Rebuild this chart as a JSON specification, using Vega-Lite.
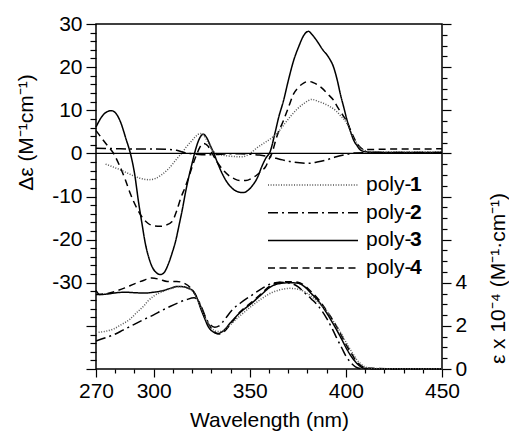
{
  "$schema": "https://vega.github.io/schema/vega-lite/v6.json",
  "width": 346,
  "height": 345,
  "autosize": {"type": "none"},
  "padding": {"left": 96, "top": 24, "right": 67, "bottom": 68},
  "background": "white",
  "config": {
    "view": {"stroke": "black", "strokeWidth": 1.5},
    "font": "Liberation Sans",
    "axis": {
      "domain": false, "grid": false, "tickColor": "black", "tickWidth": 1.2,
      "labelColor": "black", "titleColor": "black",
      "labelFont": "Liberation Sans", "labelFontSize": 21,
      "titleFont": "Liberation Sans", "titleFontSize": 21, "titleFontWeight": "normal",
      "labelFlush": false, "labelOverlap": false, "labelBound": false, "tickCount": 100
    }
  },
  "datasets": {
    "cd": [
      {"s":"poly-3","n":"3","nm":270,"v":6.1},{"s":"poly-3","n":"3","nm":273,"v":8.5},{"s":"poly-3","n":"3","nm":275.5,"v":9.6},{"s":"poly-3","n":"3","nm":278,"v":9.9},{"s":"poly-3","n":"3","nm":280.5,"v":9.2},{"s":"poly-3","n":"3","nm":283,"v":7.0},{"s":"poly-3","n":"3","nm":285.5,"v":3.5},{"s":"poly-3","n":"3","nm":288,"v":-0.2},{"s":"poly-3","n":"3","nm":290,"v":-4.5},{"s":"poly-3","n":"3","nm":292.2,"v":-11.5},{"s":"poly-3","n":"3","nm":294,"v":-16.5},{"s":"poly-3","n":"3","nm":295.7,"v":-21.0},{"s":"poly-3","n":"3","nm":297.5,"v":-24.2},{"s":"poly-3","n":"3","nm":299.2,"v":-26.3},{"s":"poly-3","n":"3","nm":301.5,"v":-27.7},{"s":"poly-3","n":"3","nm":303.5,"v":-28.1},{"s":"poly-3","n":"3","nm":305.5,"v":-27.6},{"s":"poly-3","n":"3","nm":307.5,"v":-25.8},{"s":"poly-3","n":"3","nm":309.6,"v":-23.1},{"s":"poly-3","n":"3","nm":311.5,"v":-20.2},{"s":"poly-3","n":"3","nm":313.1,"v":-16.9},{"s":"poly-3","n":"3","nm":315,"v":-12.8},{"s":"poly-3","n":"3","nm":316.5,"v":-9.2},{"s":"poly-3","n":"3","nm":318,"v":-6.0},{"s":"poly-3","n":"3","nm":320,"v":-2.3},{"s":"poly-3","n":"3","nm":322,"v":1.2},{"s":"poly-3","n":"3","nm":324,"v":3.6},{"s":"poly-3","n":"3","nm":325.7,"v":4.45},{"s":"poly-3","n":"3","nm":327.5,"v":3.7},{"s":"poly-3","n":"3","nm":329.5,"v":1.8},{"s":"poly-3","n":"3","nm":331.3,"v":0},{"s":"poly-3","n":"3","nm":333.5,"v":-2.5},{"s":"poly-3","n":"3","nm":336,"v":-5.0},{"s":"poly-3","n":"3","nm":339,"v":-7.2},{"s":"poly-3","n":"3","nm":342,"v":-8.5},{"s":"poly-3","n":"3","nm":344.5,"v":-9.0},{"s":"poly-3","n":"3","nm":346.6,"v":-9.1},{"s":"poly-3","n":"3","nm":349,"v":-8.6},{"s":"poly-3","n":"3","nm":351.5,"v":-7.4},{"s":"poly-3","n":"3","nm":354,"v":-5.6},{"s":"poly-3","n":"3","nm":356.5,"v":-2.8},{"s":"poly-3","n":"3","nm":358.5,"v":-1.0},{"s":"poly-3","n":"3","nm":360.6,"v":0.4},{"s":"poly-3","n":"3","nm":363,"v":4.5},{"s":"poly-3","n":"3","nm":365,"v":8.3},{"s":"poly-3","n":"3","nm":367.6,"v":12.3},{"s":"poly-3","n":"3","nm":370,"v":16.8},{"s":"poly-3","n":"3","nm":372.8,"v":21.5},{"s":"poly-3","n":"3","nm":375.5,"v":24.8},{"s":"poly-3","n":"3","nm":378,"v":27.3},{"s":"poly-3","n":"3","nm":380.5,"v":28.3},{"s":"poly-3","n":"3","nm":382.5,"v":27.5},{"s":"poly-3","n":"3","nm":384.9,"v":26.1},{"s":"poly-3","n":"3","nm":388,"v":24.0},{"s":"poly-3","n":"3","nm":391,"v":22.3},{"s":"poly-3","n":"3","nm":393.6,"v":20.0},{"s":"poly-3","n":"3","nm":395.5,"v":17.0},{"s":"poly-3","n":"3","nm":397.1,"v":13.8},{"s":"poly-3","n":"3","nm":399,"v":10.5},{"s":"poly-3","n":"3","nm":400.6,"v":7.7},{"s":"poly-3","n":"3","nm":402.3,"v":5.2},{"s":"poly-3","n":"3","nm":404,"v":3.1},{"s":"poly-3","n":"3","nm":405.8,"v":1.8},{"s":"poly-3","n":"3","nm":407.5,"v":0.8},{"s":"poly-3","n":"3","nm":410,"v":0.4},{"s":"poly-3","n":"3","nm":415,"v":0.25},{"s":"poly-3","n":"3","nm":430,"v":0.2},{"s":"poly-3","n":"3","nm":450,"v":0.2},

      {"s":"poly-4","n":"4","nm":270,"v":5.3},{"s":"poly-4","n":"4","nm":273,"v":3.5},{"s":"poly-4","n":"4","nm":276,"v":1.8},{"s":"poly-4","n":"4","nm":279,"v":0.1},{"s":"poly-4","n":"4","nm":282,"v":-2.6},{"s":"poly-4","n":"4","nm":285,"v":-5.8},{"s":"poly-4","n":"4","nm":288,"v":-9.5},{"s":"poly-4","n":"4","nm":291,"v":-12.5},{"s":"poly-4","n":"4","nm":294,"v":-14.8},{"s":"poly-4","n":"4","nm":297,"v":-16.2},{"s":"poly-4","n":"4","nm":300,"v":-16.8},{"s":"poly-4","n":"4","nm":303.5,"v":-16.9},{"s":"poly-4","n":"4","nm":306,"v":-16.7},{"s":"poly-4","n":"4","nm":309.6,"v":-15.8},{"s":"poly-4","n":"4","nm":312,"v":-13.3},{"s":"poly-4","n":"4","nm":314,"v":-10.5},{"s":"poly-4","n":"4","nm":316.5,"v":-7.7},{"s":"poly-4","n":"4","nm":319,"v":-4.5},{"s":"poly-4","n":"4","nm":321,"v":-1.8},{"s":"poly-4","n":"4","nm":322.6,"v":0},{"s":"poly-4","n":"4","nm":324,"v":1.4},{"s":"poly-4","n":"4","nm":326,"v":2.3},{"s":"poly-4","n":"4","nm":328,"v":1.8},{"s":"poly-4","n":"4","nm":330.4,"v":0},{"s":"poly-4","n":"4","nm":333,"v":-2.0},{"s":"poly-4","n":"4","nm":336,"v":-3.8},{"s":"poly-4","n":"4","nm":339,"v":-5.1},{"s":"poly-4","n":"4","nm":342,"v":-5.9},{"s":"poly-4","n":"4","nm":345,"v":-6.3},{"s":"poly-4","n":"4","nm":348,"v":-6.3},{"s":"poly-4","n":"4","nm":351,"v":-5.8},{"s":"poly-4","n":"4","nm":354,"v":-4.9},{"s":"poly-4","n":"4","nm":356,"v":-4.1},{"s":"poly-4","n":"4","nm":358.2,"v":-3.1},{"s":"poly-4","n":"4","nm":360,"v":-1.4},{"s":"poly-4","n":"4","nm":361.5,"v":0},{"s":"poly-4","n":"4","nm":364,"v":3.8},{"s":"poly-4","n":"4","nm":367.6,"v":7.7},{"s":"poly-4","n":"4","nm":370,"v":10.5},{"s":"poly-4","n":"4","nm":372.8,"v":13.8},{"s":"poly-4","n":"4","nm":375.5,"v":15.4},{"s":"poly-4","n":"4","nm":378,"v":16.3},{"s":"poly-4","n":"4","nm":380.5,"v":16.7},{"s":"poly-4","n":"4","nm":383,"v":16.4},{"s":"poly-4","n":"4","nm":387.4,"v":15.2},{"s":"poly-4","n":"4","nm":390.5,"v":13.8},{"s":"poly-4","n":"4","nm":393.6,"v":12.3},{"s":"poly-4","n":"4","nm":396,"v":10.5},{"s":"poly-4","n":"4","nm":397.9,"v":9.2},{"s":"poly-4","n":"4","nm":400.6,"v":7.3},{"s":"poly-4","n":"4","nm":403,"v":4.8},{"s":"poly-4","n":"4","nm":405.8,"v":2.3},{"s":"poly-4","n":"4","nm":407.5,"v":1.4},{"s":"poly-4","n":"4","nm":409.3,"v":0.9},{"s":"poly-4","n":"4","nm":412,"v":0.9},{"s":"poly-4","n":"4","nm":425,"v":1.0},{"s":"poly-4","n":"4","nm":440,"v":1.0},{"s":"poly-4","n":"4","nm":450,"v":1.1},

      {"s":"poly-1","n":"1","nm":275,"v":-2.5},{"s":"poly-1","n":"1","nm":278,"v":-3.0},{"s":"poly-1","n":"1","nm":282,"v":-3.7},{"s":"poly-1","n":"1","nm":286,"v":-4.5},{"s":"poly-1","n":"1","nm":290,"v":-5.3},{"s":"poly-1","n":"1","nm":294,"v":-5.9},{"s":"poly-1","n":"1","nm":297.5,"v":-6.1},{"s":"poly-1","n":"1","nm":301,"v":-5.8},{"s":"poly-1","n":"1","nm":304,"v":-5.0},{"s":"poly-1","n":"1","nm":307,"v":-3.9},{"s":"poly-1","n":"1","nm":310,"v":-2.4},{"s":"poly-1","n":"1","nm":312.5,"v":-1.0},{"s":"poly-1","n":"1","nm":314.5,"v":0},{"s":"poly-1","n":"1","nm":317,"v":1.5},{"s":"poly-1","n":"1","nm":320,"v":3.0},{"s":"poly-1","n":"1","nm":322,"v":4.0},{"s":"poly-1","n":"1","nm":324.3,"v":4.6},{"s":"poly-1","n":"1","nm":326,"v":4.2},{"s":"poly-1","n":"1","nm":328,"v":2.8},{"s":"poly-1","n":"1","nm":330.4,"v":0.8},{"s":"poly-1","n":"1","nm":333,"v":-0.1},{"s":"poly-1","n":"1","nm":337,"v":-0.5},{"s":"poly-1","n":"1","nm":341,"v":-0.7},{"s":"poly-1","n":"1","nm":346,"v":-0.8},{"s":"poly-1","n":"1","nm":350.2,"v":0},{"s":"poly-1","n":"1","nm":353.5,"v":1.2},{"s":"poly-1","n":"1","nm":357.1,"v":2.3},{"s":"poly-1","n":"1","nm":360.5,"v":3.3},{"s":"poly-1","n":"1","nm":364.1,"v":4.6},{"s":"poly-1","n":"1","nm":367.5,"v":6.5},{"s":"poly-1","n":"1","nm":371,"v":8.5},{"s":"poly-1","n":"1","nm":374.5,"v":10.2},{"s":"poly-1","n":"1","nm":378,"v":11.5},{"s":"poly-1","n":"1","nm":382.3,"v":12.5},{"s":"poly-1","n":"1","nm":386,"v":12.0},{"s":"poly-1","n":"1","nm":391.9,"v":10.8},{"s":"poly-1","n":"1","nm":395,"v":9.8},{"s":"poly-1","n":"1","nm":397.1,"v":8.8},{"s":"poly-1","n":"1","nm":400.6,"v":6.9},{"s":"poly-1","n":"1","nm":403,"v":4.5},{"s":"poly-1","n":"1","nm":405.8,"v":2.3},{"s":"poly-1","n":"1","nm":407.5,"v":1.3},{"s":"poly-1","n":"1","nm":409.3,"v":0.8},{"s":"poly-1","n":"1","nm":412,"v":0.4},{"s":"poly-1","n":"1","nm":420,"v":0.3},{"s":"poly-1","n":"1","nm":450,"v":0.3},

      {"s":"poly-2","n":"2","nm":270,"v":1.2},{"s":"poly-2","n":"2","nm":280,"v":1.1},{"s":"poly-2","n":"2","nm":290,"v":1.0},{"s":"poly-2","n":"2","nm":300,"v":1.0},{"s":"poly-2","n":"2","nm":308,"v":0.9},{"s":"poly-2","n":"2","nm":312,"v":0.7},{"s":"poly-2","n":"2","nm":316,"v":0.2},{"s":"poly-2","n":"2","nm":320,"v":-0.1},{"s":"poly-2","n":"2","nm":325,"v":-0.3},{"s":"poly-2","n":"2","nm":330,"v":-0.3},{"s":"poly-2","n":"2","nm":335,"v":-0.2},{"s":"poly-2","n":"2","nm":340,"v":-0.1},{"s":"poly-2","n":"2","nm":345,"v":-0.1},{"s":"poly-2","n":"2","nm":350.2,"v":-0.2},{"s":"poly-2","n":"2","nm":355,"v":-0.4},{"s":"poly-2","n":"2","nm":360.6,"v":-0.8},{"s":"poly-2","n":"2","nm":366,"v":-1.4},{"s":"poly-2","n":"2","nm":371,"v":-1.9},{"s":"poly-2","n":"2","nm":376,"v":-2.2},{"s":"poly-2","n":"2","nm":380.5,"v":-2.3},{"s":"poly-2","n":"2","nm":385,"v":-2.0},{"s":"poly-2","n":"2","nm":390.1,"v":-1.5},{"s":"poly-2","n":"2","nm":395,"v":-0.8},{"s":"poly-2","n":"2","nm":400.6,"v":-0.2},{"s":"poly-2","n":"2","nm":405,"v":0.1},{"s":"poly-2","n":"2","nm":420,"v":0.2},{"s":"poly-2","n":"2","nm":450,"v":0.2}
    ],
    "ab": [
      {"s":"poly-3","n":"3","nm":270,"v":3.65},{"s":"poly-3","n":"3","nm":272,"v":3.45},{"s":"poly-3","n":"3","nm":276,"v":3.48},{"s":"poly-3","n":"3","nm":280,"v":3.53},{"s":"poly-3","n":"3","nm":285,"v":3.56},{"s":"poly-3","n":"3","nm":290,"v":3.54},{"s":"poly-3","n":"3","nm":295,"v":3.52},{"s":"poly-3","n":"3","nm":300,"v":3.56},{"s":"poly-3","n":"3","nm":305,"v":3.64},{"s":"poly-3","n":"3","nm":309,"v":3.75},{"s":"poly-3","n":"3","nm":312,"v":3.83},{"s":"poly-3","n":"3","nm":315,"v":3.82},{"s":"poly-3","n":"3","nm":318,"v":3.74},{"s":"poly-3","n":"3","nm":320.7,"v":3.6},{"s":"poly-3","n":"3","nm":322.5,"v":3.3},{"s":"poly-3","n":"3","nm":324.5,"v":2.8},{"s":"poly-3","n":"3","nm":326.5,"v":2.35},{"s":"poly-3","n":"3","nm":328.5,"v":1.95},{"s":"poly-3","n":"3","nm":331,"v":1.72},{"s":"poly-3","n":"3","nm":333.5,"v":1.65},{"s":"poly-3","n":"3","nm":336,"v":1.75},{"s":"poly-3","n":"3","nm":340,"v":2.15},{"s":"poly-3","n":"3","nm":345,"v":2.62},{"s":"poly-3","n":"3","nm":351,"v":3.05},{"s":"poly-3","n":"3","nm":356,"v":3.45},{"s":"poly-3","n":"3","nm":361,"v":3.82},{"s":"poly-3","n":"3","nm":366,"v":3.97},{"s":"poly-3","n":"3","nm":371,"v":4.0},{"s":"poly-3","n":"3","nm":375,"v":3.98},{"s":"poly-3","n":"3","nm":378,"v":3.85},{"s":"poly-3","n":"3","nm":382,"v":3.5},{"s":"poly-3","n":"3","nm":386,"v":3.12},{"s":"poly-3","n":"3","nm":390,"v":2.6},{"s":"poly-3","n":"3","nm":394,"v":2.0},{"s":"poly-3","n":"3","nm":398,"v":1.35},{"s":"poly-3","n":"3","nm":400,"v":1.0},{"s":"poly-3","n":"3","nm":402.3,"v":0.65},{"s":"poly-3","n":"3","nm":405,"v":0.33},{"s":"poly-3","n":"3","nm":407,"v":0.15},{"s":"poly-3","n":"3","nm":409,"v":0.05},{"s":"poly-3","n":"3","nm":412,"v":0.02},{"s":"poly-3","n":"3","nm":430,"v":0.01},{"s":"poly-3","n":"3","nm":450,"v":0.01},

      {"s":"poly-4","n":"4","nm":270,"v":3.45},{"s":"poly-4","n":"4","nm":273,"v":3.47},{"s":"poly-4","n":"4","nm":277,"v":3.52},{"s":"poly-4","n":"4","nm":280,"v":3.6},{"s":"poly-4","n":"4","nm":285,"v":3.76},{"s":"poly-4","n":"4","nm":290,"v":3.95},{"s":"poly-4","n":"4","nm":295,"v":4.12},{"s":"poly-4","n":"4","nm":299,"v":4.22},{"s":"poly-4","n":"4","nm":303,"v":4.16},{"s":"poly-4","n":"4","nm":307,"v":4.06},{"s":"poly-4","n":"4","nm":312,"v":4.06},{"s":"poly-4","n":"4","nm":316,"v":3.97},{"s":"poly-4","n":"4","nm":319,"v":3.78},{"s":"poly-4","n":"4","nm":322,"v":3.4},{"s":"poly-4","n":"4","nm":324.5,"v":2.9},{"s":"poly-4","n":"4","nm":327,"v":2.35},{"s":"poly-4","n":"4","nm":329.5,"v":1.95},{"s":"poly-4","n":"4","nm":332,"v":1.68},{"s":"poly-4","n":"4","nm":334,"v":1.62},{"s":"poly-4","n":"4","nm":336.5,"v":1.72},{"s":"poly-4","n":"4","nm":340,"v":2.08},{"s":"poly-4","n":"4","nm":345,"v":2.65},{"s":"poly-4","n":"4","nm":351,"v":3.1},{"s":"poly-4","n":"4","nm":356,"v":3.5},{"s":"poly-4","n":"4","nm":361,"v":3.88},{"s":"poly-4","n":"4","nm":366,"v":4.02},{"s":"poly-4","n":"4","nm":371,"v":4.05},{"s":"poly-4","n":"4","nm":375,"v":4.02},{"s":"poly-4","n":"4","nm":378,"v":3.9},{"s":"poly-4","n":"4","nm":382,"v":3.58},{"s":"poly-4","n":"4","nm":386,"v":3.2},{"s":"poly-4","n":"4","nm":390,"v":2.7},{"s":"poly-4","n":"4","nm":394,"v":2.15},{"s":"poly-4","n":"4","nm":398,"v":1.5},{"s":"poly-4","n":"4","nm":400,"v":1.15},{"s":"poly-4","n":"4","nm":403,"v":0.7},{"s":"poly-4","n":"4","nm":406,"v":0.3},{"s":"poly-4","n":"4","nm":409,"v":0.1},{"s":"poly-4","n":"4","nm":412,"v":0.03},{"s":"poly-4","n":"4","nm":430,"v":0.01},{"s":"poly-4","n":"4","nm":450,"v":0.01},

      {"s":"poly-2","n":"2","nm":270,"v":1.3},{"s":"poly-2","n":"2","nm":275,"v":1.45},{"s":"poly-2","n":"2","nm":279,"v":1.58},{"s":"poly-2","n":"2","nm":284,"v":1.8},{"s":"poly-2","n":"2","nm":289.4,"v":2.05},{"s":"poly-2","n":"2","nm":295,"v":2.3},{"s":"poly-2","n":"2","nm":300,"v":2.51},{"s":"poly-2","n":"2","nm":304,"v":2.7},{"s":"poly-2","n":"2","nm":308.5,"v":2.9},{"s":"poly-2","n":"2","nm":313,"v":3.08},{"s":"poly-2","n":"2","nm":317.2,"v":3.22},{"s":"poly-2","n":"2","nm":321,"v":3.3},{"s":"poly-2","n":"2","nm":323,"v":3.2},{"s":"poly-2","n":"2","nm":325,"v":2.85},{"s":"poly-2","n":"2","nm":327,"v":2.4},{"s":"poly-2","n":"2","nm":329,"v":2.1},{"s":"poly-2","n":"2","nm":331.8,"v":1.94},{"s":"poly-2","n":"2","nm":334,"v":2.0},{"s":"poly-2","n":"2","nm":337,"v":2.3},{"s":"poly-2","n":"2","nm":340.8,"v":2.74},{"s":"poly-2","n":"2","nm":345,"v":3.05},{"s":"poly-2","n":"2","nm":351,"v":3.42},{"s":"poly-2","n":"2","nm":356,"v":3.72},{"s":"poly-2","n":"2","nm":361,"v":3.95},{"s":"poly-2","n":"2","nm":366,"v":4.02},{"s":"poly-2","n":"2","nm":371,"v":3.98},{"s":"poly-2","n":"2","nm":375,"v":3.82},{"s":"poly-2","n":"2","nm":378,"v":3.58},{"s":"poly-2","n":"2","nm":382,"v":3.25},{"s":"poly-2","n":"2","nm":386,"v":2.88},{"s":"poly-2","n":"2","nm":390,"v":2.35},{"s":"poly-2","n":"2","nm":393,"v":1.85},{"s":"poly-2","n":"2","nm":395.7,"v":1.35},{"s":"poly-2","n":"2","nm":398,"v":0.95},{"s":"poly-2","n":"2","nm":400,"v":0.6},{"s":"poly-2","n":"2","nm":402,"v":0.35},{"s":"poly-2","n":"2","nm":405,"v":0.1},{"s":"poly-2","n":"2","nm":408,"v":0.02},{"s":"poly-2","n":"2","nm":430,"v":0.0},{"s":"poly-2","n":"2","nm":450,"v":0.0},

      {"s":"poly-1","n":"1","nm":270,"v":1.69},{"s":"poly-1","n":"1","nm":275,"v":1.75},{"s":"poly-1","n":"1","nm":279,"v":1.85},{"s":"poly-1","n":"1","nm":283,"v":2.05},{"s":"poly-1","n":"1","nm":287.7,"v":2.31},{"s":"poly-1","n":"1","nm":291,"v":2.6},{"s":"poly-1","n":"1","nm":294.6,"v":2.9},{"s":"poly-1","n":"1","nm":297,"v":3.15},{"s":"poly-1","n":"1","nm":300,"v":3.38},{"s":"poly-1","n":"1","nm":305,"v":3.6},{"s":"poly-1","n":"1","nm":309,"v":3.73},{"s":"poly-1","n":"1","nm":313,"v":3.82},{"s":"poly-1","n":"1","nm":317,"v":3.8},{"s":"poly-1","n":"1","nm":320,"v":3.62},{"s":"poly-1","n":"1","nm":322.5,"v":3.3},{"s":"poly-1","n":"1","nm":325,"v":2.75},{"s":"poly-1","n":"1","nm":327.5,"v":2.25},{"s":"poly-1","n":"1","nm":330,"v":1.9},{"s":"poly-1","n":"1","nm":332.5,"v":1.75},{"s":"poly-1","n":"1","nm":335,"v":1.74},{"s":"poly-1","n":"1","nm":338,"v":1.9},{"s":"poly-1","n":"1","nm":341,"v":2.15},{"s":"poly-1","n":"1","nm":346,"v":2.55},{"s":"poly-1","n":"1","nm":351,"v":2.92},{"s":"poly-1","n":"1","nm":356,"v":3.25},{"s":"poly-1","n":"1","nm":361.6,"v":3.55},{"s":"poly-1","n":"1","nm":366,"v":3.68},{"s":"poly-1","n":"1","nm":371,"v":3.74},{"s":"poly-1","n":"1","nm":376,"v":3.68},{"s":"poly-1","n":"1","nm":380,"v":3.5},{"s":"poly-1","n":"1","nm":384,"v":3.22},{"s":"poly-1","n":"1","nm":387,"v":2.98},{"s":"poly-1","n":"1","nm":390,"v":2.7},{"s":"poly-1","n":"1","nm":394,"v":2.15},{"s":"poly-1","n":"1","nm":398,"v":1.58},{"s":"poly-1","n":"1","nm":400,"v":1.25},{"s":"poly-1","n":"1","nm":403,"v":0.8},{"s":"poly-1","n":"1","nm":406,"v":0.4},{"s":"poly-1","n":"1","nm":409,"v":0.15},{"s":"poly-1","n":"1","nm":412,"v":0.05},{"s":"poly-1","n":"1","nm":416,"v":0.02},{"s":"poly-1","n":"1","nm":430,"v":0.01},{"s":"poly-1","n":"1","nm":450,"v":0.01}
    ]
  },
  "layer": [
    {
      "layer": [
        {
          "data": {"name": "cd"},
          "mark": {"type": "line", "interpolate": "monotone", "strokeWidth": 1.5},
          "encoding": {
            "x": {"field": "nm", "type": "quantitative", "scale": {"domain": [270, 450], "nice": false, "zero": false},
              "axis": {"title": "Wavelength (nm)", "values": [270,280,290,300,310,320,330,340,350,360,370,380,390,400,410,420,430,440,450],
                "labelExpr": "(datum.value === 270 || datum.value % 50 === 0) ? '' + datum.value : ''",
                "tickSize": {"condition": {"test": "datum.value === 270 || datum.value % 50 === 0", "value": 8}, "value": 4},
                "tickCount": 100, "labelOverlap": false, "labelFlush": false, "labelPadding": 3, "titlePadding": 8}},
            "y": {"field": "v", "type": "quantitative", "scale": {"domain": [-50, 30], "nice": false, "zero": false},
              "axis": {"orient": "left", "title": "Δε (M⁻¹cm⁻¹)",
                "values": [-50,-48,-46,-44,-42,-40,-38,-36,-34,-32,-30,-28,-26,-24,-22,-20,-18,-16,-14,-12,-10,-8,-6,-4,-2,0,2,4,6,8,10,12,14,16,18,20,22,24,26,28,30],
                "labelExpr": "(datum.value % 10 === 0 && datum.value >= -30) ? '' + datum.value : ''",
                "tickSize": {"condition": {"test": "datum.value % 10 === 0", "value": 10}, "value": 6},
                "tickCount": 100, "labelOverlap": false, "labelFlush": false,
                "labelPadding": 4, "titleAngle": 270, "titleX": -70, "titleY": 108, "titleAlign": "center", "titleBaseline": "middle"}},
            "strokeDash": {"field": "s", "type": "nominal",
              "scale": {"domain": ["poly-1","poly-2","poly-3","poly-4"], "range": [[1,1.6],[10,4,2,4],[1,0],[7,4.5]]},
              "legend": {"orient": "none", "legendX": 171, "legendY": 151, "title": null, "symbolType": "stroke", "symbolSize": 8100,
                "symbolStrokeWidth": 1.5, "labelExpr": "'poly-'", "labelFontSize": 21, "labelFont": "Liberation Sans", "labelColor": "black",
                "labelOffset": 7, "rowPadding": 6.7, "padding": 0, "clipHeight": 20}},
            "color": {"field": "s", "type": "nominal",
              "scale": {"domain": ["poly-1","poly-2","poly-3","poly-4"], "range": ["#555555","#000000","#000000","#000000"]}},
            "opacity": {"field": "n", "type": "nominal",
              "scale": {"domain": ["1","2","3","4"], "range": [1,1,1,1]},
              "legend": {"orient": "none", "legendX": 217, "legendY": 151, "title": null, "symbolType": "stroke", "symbolSize": 8100,
                "symbolStrokeWidth": 0, "symbolStrokeColor": "transparent", "labelFontSize": 21, "labelFont": "Liberation Sans",
                "labelFontWeight": "bold", "labelColor": "black", "labelOffset": 7, "rowPadding": 6.7, "padding": 0, "clipHeight": 20}}
          }
        },
        {
          "data": {"values": [{}]},
          "mark": {"type": "rule", "color": "black", "strokeWidth": 1.2},
          "encoding": {"y": {"datum": 0, "type": "quantitative"}}
        }
      ]
    },
    {
      "data": {"name": "ab"},
      "mark": {"type": "line", "interpolate": "monotone", "strokeWidth": 1.5},
      "encoding": {
        "x": {"field": "nm", "type": "quantitative", "scale": {"domain": [270, 450], "nice": false, "zero": false}},
        "y": {"field": "v", "type": "quantitative", "scale": {"domain": [0, 16], "nice": false, "zero": false},
          "axis": {"orient": "right", "title": "ε x 10⁻⁴ (M⁻¹·cm⁻¹)",
            "values": [0,0.5,1,1.5,2,2.5,3,3.5,4,4.5,5,5.5,6,6.5,7,7.5,8,8.5,9,9.5,10,10.5,11,11.5,12,12.5,13,13.5,14,14.5,15,15.5,16],
            "labelExpr": "(datum.value % 2 === 0 && datum.value <= 4) ? '' + datum.value : ''",
            "tickSize": {"condition": {"test": "datum.value % 2 === 0", "value": 9}, "value": 5},
            "tickCount": 100, "labelOverlap": false, "labelFlush": false,
            "labelPadding": 4, "titleAngle": 270, "titleX": 56, "titleY": 254, "titleAlign": "center", "titleBaseline": "middle"}},
        "strokeDash": {"field": "s", "type": "nominal"},
        "color": {"field": "s", "type": "nominal"},
        "opacity": {"field": "n", "type": "nominal"}
      }
    }
  ],
  "resolve": {"scale": {"y": "independent"}}
}
